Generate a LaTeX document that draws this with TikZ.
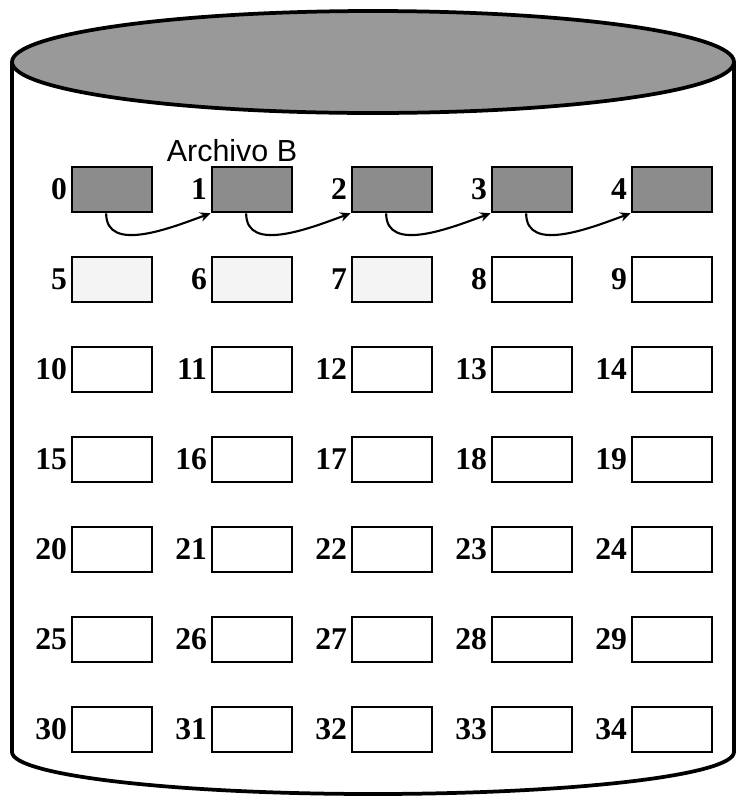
\documentclass[tikz,border=0pt]{standalone}
\usepackage{fontspec}
\setmainfont{Liberation Serif}
\newfontfamily\labfont{Liberation Sans}
\usetikzlibrary{arrows.meta}
\definecolor{topgray}{HTML}{999999}
\definecolor{usedgray}{HTML}{8C8C8C}
\definecolor{lightblk}{HTML}{F4F4F4}
\tikzset{
  blk/.style={draw=black, line width=2.2pt, minimum width=2.4cm, minimum height=1.35cm, inner sep=0pt, fill=white},
  used/.style={blk, fill=usedgray},
  light/.style={blk, fill=lightblk},
  num/.style={font=\bfseries\fontsize{27}{27}\selectfont, inner sep=0pt, anchor=east},
  link/.style={line width=1.8pt, -{Stealth[length=9pt,width=8pt]}},
  wall/.style={line width=3.2pt, line cap=round}
}
\begin{document}
\begin{tikzpicture}[x=0.03cm,y=-0.03cm]
\useasboundingbox (0,0) rectangle (736,800);
% cylinder
\draw[wall] (12,62) -- (12,752) arc[start angle=180, end angle=0, x radius=361, y radius=42] -- (734,62);
\draw[wall, fill=topgray] (373,62) ellipse[x radius=361, y radius=51];
% boxes
\foreach \r in {0,...,6}{
  \foreach \c in {0,...,4}{
    \pgfmathtruncatemacro{\n}{5*\r+\c}
    \ifnum\n<5
      \node[used] (b\n) at (112+140*\c, 189.5+90*\r) {};
    \else\ifnum\n<8
      \node[light] (b\n) at (112+140*\c, 189.5+90*\r) {};
    \else
      \node[blk] (b\n) at (112+140*\c, 189.5+90*\r) {};
    \fi\fi
    \node[num] (l\n) at ([xshift=-3pt]b\n.west) {\n};
  }
}
\node[font=\labfont\fontsize{26}{26}\selectfont, anchor=south, inner sep=0pt] (title) at (232,162) {Archivo B};
% links
\foreach \i/\j in {0/1,1/2,2/3,3/4}{
  \draw[link] ([xshift=-5pt]b\i.south) to[out=-90,in=200] (b\j.south west);
}
\end{tikzpicture}
\end{document}
